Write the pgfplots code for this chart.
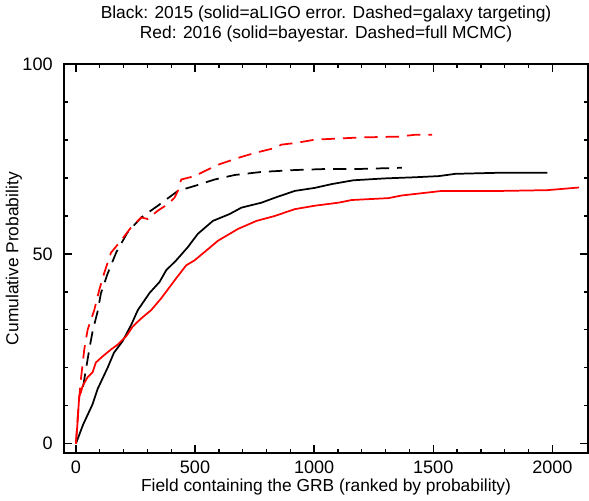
\documentclass[border=0pt]{standalone}
\usepackage{fontspec}
\setmainfont{Liberation Sans}
\usepackage{pgfplots}
\pgfplotsset{compat=1.18}

\begin{document}
\fontsize{13}{15}\selectfont
\begin{tikzpicture}
\begin{axis}[
  scale only axis,
  width=392pt, height=291pt,
  xmin=-50, xmax=2150, ymin=-2.5, ymax=100,
  xtick={0,500,1000,1500,2000},
  ytick={0,50,100},
  minor x tick num=4, minor y tick num=4,
  tick align=inside, tick pos=both,
  major tick length=6pt, minor tick length=3pt,
  every tick/.style={black, line width=1pt},
  axis line style={line width=1.4pt},
  /pgf/number format/assume math mode=true,
  /pgf/number format/1000 sep={},
  scaled ticks=false,
  tick label style={font=\fontsize{13.5}{15}\selectfont},
  xticklabel style={yshift=-1pt},
  yticklabel style={xshift=-4pt},
  label style={font=\fontsize{13}{15}\selectfont},
  xlabel={Field containing the GRB (ranked by probability)},
  ylabel={Cumulative Probability},
  xlabel style={yshift=5pt},
  ylabel style={yshift=-8.5pt},
  title style={font=\fontsize{13}{15}\selectfont, align=center, yshift=6pt},
  title={Black: 2015 (solid=aLIGO error. Dashed=galaxy targeting)\\Red: 2016 (solid=bayestar. Dashed=full MCMC)},
  every axis plot/.append style={line width=1.3pt, line join=round},
]
% 2015, aLIGO error region
\addplot[black] coordinates {
  (0,0) (30,5) (70,10.4) (91,14.4) (133,20) (160,24) (196,27) (232,31.3)
  (260,35.2) (309,39.7) (351,42.6) (379,45.7) (421,48.3) (470,51.8)
  (512,55.3) (575,58.7) (645,60.5) (695,62.2) (779,63.5) (835,64.8)
  (919,66.6) (1003,67.4) (1074,68.4) (1165,69.4) (1298,69.9) (1425,70.2)
  (1523,70.5) (1593,71.1) (1789,71.4) (1979,71.4)
};
% 2015, galaxy targeting
\addplot[black, dash pattern=on 10pt off 6pt] coordinates {
  (30,15) (56,24.8) (70,29.6) (91,34.8) (105,39.6) (133,44.8) (170,50.5)
  (217,55.7) (274,59.6) (344,62.7) (428,66.6) (498,67.9) (582,69.6)
  (667,70.8) (779,71.6) (919,72.1) (1060,72.4) (1200,72.4) (1368,72.7)
};
% 2016, bayestar
\addplot[red] coordinates {
  (0,0) (7,5.7) (14,12.6) (21,13.5) (28,15.2) (49,17.5) (70,18.8) (84,21.4)
  (112,23) (147,24.8) (175,26.1) (211,28.3) (239,30.9) (274,33) (316,35.2)
  (358,38.3) (414,43) (463,47) (498,48.3) (540,50.5) (597,53.5) (681,56.6)
  (758,58.7) (835,60) (919,61.8) (1003,62.7) (1102,63.5) (1158,64.2)
  (1312,64.7) (1368,65.4) (1537,66.6) (1789,66.6) (1979,66.8) (2112,67.5)
};
% 2016, full MCMC
\addplot[red, dash pattern=on 10pt off 6pt] coordinates {
  (0,0) (7,6.5) (14,12) (21,17) (35,24.8) (49,30) (77,35.2) (98,40.5)
  (119,45) (147,50.3) (189,53.5) (232,57) (274,59.6) (302,59.2) (344,61.4)
  (386,63.1) (414,64.8) (428,66.6) (442,69.6) (498,70.5) (540,71.8)
  (597,73.5) (681,75.3) (751,76.6) (835,77.9) (863,78.8) (919,79.2)
  (1003,80.1) (1200,80.7) (1354,80.9) (1425,81.4) (1495,81.4)
};
\end{axis}
\end{tikzpicture}
\end{document}
